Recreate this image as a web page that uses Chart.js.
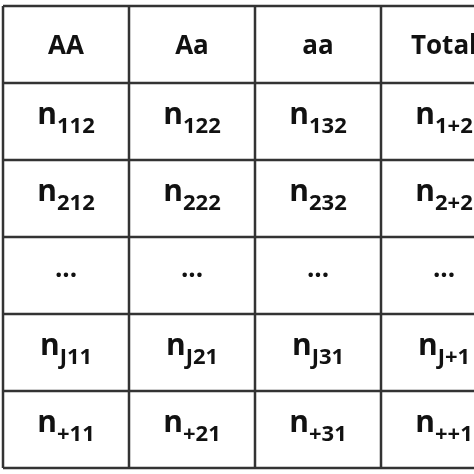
<!DOCTYPE html>
<html><head><meta charset="utf-8">
<script src="https://cdn.jsdelivr.net/npm/chart.js@4"></script>
<style>html,body{margin:0;padding:0;background:#fff}#w{width:474px;height:474px}</style>
</head><body><div id="w"><canvas id="c"></canvas></div>
<script>
const headers = ["AA", "Aa", "aa", "Total"];
const rowSubs = [
  ["112", "122", "132", "1+2"],
  ["212", "222", "232", "2+2"],
  [null, null, null, null],
  ["J11", "J21", "J31", "J+1"],
  ["+11", "+21", "+31", "++1"]
];
const nCols = headers.length, nRows = rowSubs.length + 1;
const bounds = (n) => Array.from({length: n + 1}, (_, i) => i - 0.5);

const points = [];
headers.forEach((h, c) => points.push({x: c, y: 0}));
rowSubs.forEach((r, ri) => r.forEach((s, c) => points.push({x: c, y: ri + 1})));

const tablePlugin = {
  id: 'table',
  afterDatasetsDraw(chart) {
    const ctx = chart.ctx, xs = chart.scales.x, ys = chart.scales.y;
    ctx.save();
    const yTop = ys.getPixelForValue(-0.5), yBot = ys.getPixelForValue(nRows - 0.5);
    const xL = xs.getPixelForValue(-0.5), xR = xs.getPixelForValue(nCols - 0.5);
    ctx.strokeStyle = '#333'; ctx.lineWidth = 2.5;
    bounds(nCols).forEach(v => { const p = xs.getPixelForValue(v); ctx.beginPath(); ctx.moveTo(p, yTop); ctx.lineTo(p, yBot); ctx.stroke(); });
    bounds(nRows).forEach(v => { const p = ys.getPixelForValue(v); ctx.beginPath(); ctx.moveTo(xL, p); ctx.lineTo(xR, p); ctx.stroke(); });
    ctx.fillStyle = '#111';
    ctx.textBaseline = 'middle';
    headers.forEach((h, c) => {
      ctx.font = 'bold 26px "Open Sans", sans-serif';
      ctx.textAlign = 'center';
      ctx.fillText(h, xs.getPixelForValue(c), ys.getPixelForValue(0) + 2);
    });
    rowSubs.forEach((r, ri) => r.forEach((s, c) => {
      const cx = xs.getPixelForValue(c), cy = ys.getPixelForValue(ri + 1);
      if (s === null) {
        ctx.font = 'bold 26px "Open Sans", sans-serif';
        ctx.textAlign = 'center';
        ctx.fillText('...', cx, cy - 6);
        return;
      }
      ctx.font = 'bold 30px "Open Sans", sans-serif';
      const wn = ctx.measureText('n').width;
      ctx.font = 'bold 22px "Open Sans", sans-serif';
      const ws = ctx.measureText(s).width;
      const left = cx - (wn + ws) / 2;
      ctx.textAlign = 'left';
      ctx.font = 'bold 30px "Open Sans", sans-serif';
      ctx.fillText('n', left, cy - 6);
      ctx.font = 'bold 22px "Open Sans", sans-serif';
      ctx.fillText(s, left + wn, cy + 5);
    }));
    ctx.restore();
  }
};

new Chart(document.getElementById('c'), {
  type: 'scatter',
  data: {datasets: [{data: points, pointRadius: 0, showLine: false}]},
  options: {
    responsive: true, maintainAspectRatio: false, animation: false,
    layout: {padding: 0},
    plugins: {legend: {display: false}, tooltip: {enabled: false}},
    scales: {
      x: {display: false, min: -0.5 - 3 / 126, max: -0.5 - 3 / 126 + 474 / 126},
      y: {display: false, reverse: true, min: -0.5 - 6 / 77, max: -0.5 - 6 / 77 + 474 / 77}
    }
  },
  plugins: [tablePlugin]
});
</script></body></html>
